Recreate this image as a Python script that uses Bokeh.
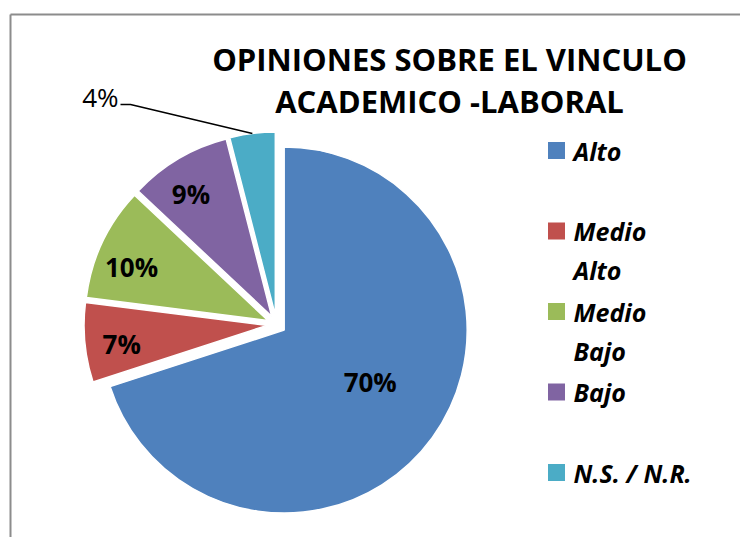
import math
from bokeh.plotting import figure
from bokeh.models import Range1d
from bokeh.core.properties import value
from bokeh.embed import file_html
from bokeh.resources import INLINE

# ---- data ----
categories = ["Alto", "Medio Alto", "Medio Bajo", "Bajo", "N.S. / N.R."]
percentages = [70, 7, 10, 9, 4]
pct_labels = ["70%", "7%", "10%", "9%", "4%"]
legend_text = ["Alto", "Medio\nAlto", "Medio\nBajo", "Bajo", "N.S. / N.R."]
colors = ["#4F81BD", "#C0504D", "#9BBB59", "#8064A2", "#4BACC6"]
title_lines = ["OPINIONES SOBRE EL VINCULO", "ACADEMICO -LABORAL"]

# ---- layout (screen-like coords: x right, y = -screen_y) ----
W, H = 740, 537
FONT = "Open Sans"
p = figure(width=W, height=H, output_backend="svg", toolbar_location=None,
           x_range=Range1d(0, W), y_range=Range1d(-H, 0),
           min_border=0, outline_line_color=None)
p.axis.visible = False
p.grid.visible = False
p.background_fill_color = "white"
p.border_fill_color = "white"

# chart-area border (top and left visible)
p.line([10, 760], [-14, -14], line_color="#8c8c8c", line_width=2)
p.line([10, 10], [-14, -560], line_color="#8c8c8c", line_width=2)

# pie
cx, cy = 276, -324
R = 183
EXPLODE = 9.5
total = sum(percentages)
label_r = [0.55, 0.8, 0.8, 0.8, None]
label_rot = [0.075, 0.028, 0.063, 0.047, 0]   # small angular nudges (radians)
acc = 0.0
for i, v in enumerate(percentages):
    a0 = acc / total
    a1 = (acc + v) / total
    acc += v
    start = math.pi / 2 - 2 * math.pi * a1
    end = math.pi / 2 - 2 * math.pi * a0
    mid = (start + end) / 2
    ox = cx + EXPLODE * math.cos(mid)
    oy = cy + EXPLODE * math.sin(mid)
    p.wedge(x=[ox], y=[oy], radius=R, start_angle=[start], end_angle=[end],
            fill_color=colors[i], line_color="white", line_width=1.5)
    if label_r[i] is not None:
        lr = R * label_r[i] + EXPLODE
        la = mid + label_rot[i]
        p.text(x=[cx + lr * math.cos(la)], y=[cy + lr * math.sin(la)],
               text=[pct_labels[i]], text_font=value(FONT), text_font_style="bold",
               text_font_size="26px", text_align="center", text_baseline="middle",
               text_color="black")
    else:
        # outside label with leader line
        ex = ox + R * math.cos(mid)
        ey = oy + R * math.sin(mid)
        lx, ly = 130, -104
        p.line([ex, lx, lx - 10], [ey, ly, ly], line_color="black", line_width=1.5)
        p.text(x=[lx - 12], y=[ly + 8], text=[pct_labels[i]], text_font=value(FONT),
               text_font_size="26px", text_align="right", text_baseline="middle",
               text_color="black")

# title
for k, t in enumerate(title_lines):
    p.text(x=[449], y=[-58 - 42 * k], text=[t], text_font=value(FONT),
           text_font_style="bold", text_font_size="31px", text_align="center",
           text_baseline="middle", text_color="black")

# legend
line_pitch = 39
for i, lbl in enumerate(legend_text):
    ey = -150 - 80.5 * i
    p.rect(x=[556], y=[ey], width=17, height=17, fill_color=colors[i],
           line_color=None)
    for j, part in enumerate(lbl.split("\n")):
        p.text(x=[573], y=[ey - line_pitch * j], text=[part], text_font=value(FONT),
               text_font_style="bold italic", text_font_size="25px",
               text_align="left", text_baseline="middle", text_color="black")

open("out.html", "w").write(file_html(p, INLINE))
